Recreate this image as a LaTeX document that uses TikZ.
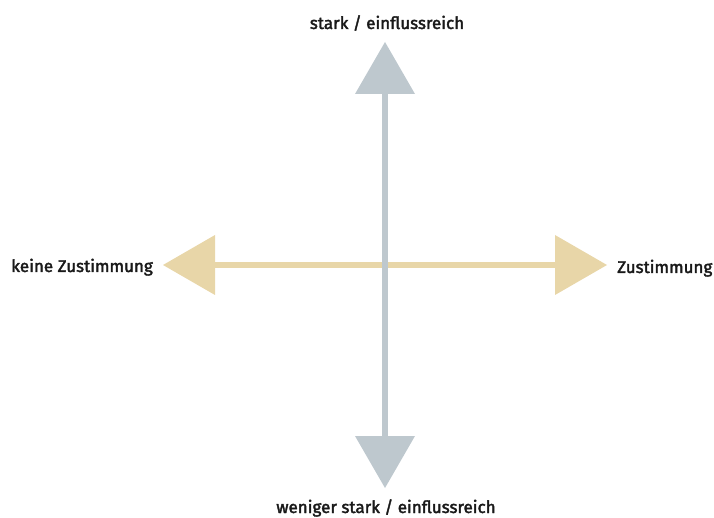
\documentclass[tikz,border=0pt]{standalone}
\usepackage{fontspec}
\setmainfont{Fira Sans}[UprightFeatures={FakeBold=2.2}]
\usetikzlibrary{arrows.meta}
\definecolor{axisgray}{RGB}{190,200,206}
\definecolor{axistan}{RGB}{232,214,168}
\tikzset{
  axis/.style={line width=6pt, {Triangle[width=60pt,length=52pt,line width=0pt]}-{Triangle[width=60pt,length=52pt,line width=0pt]}},
  lbl/.style={inner sep=0pt, font=\fontsize{17}{20}\selectfont, text=black!90}
}
\begin{document}
\begin{tikzpicture}[x=1pt,y=-1pt]
\useasboundingbox (0,0) rectangle (714,518);
\coordinate (L) at (163,265);
\coordinate (R) at (607,265);
\coordinate (T) at (385,42);
\coordinate (B) at (385,488);
\draw[axis, color=axistan] (L) -- (R);
\draw[axis, color=axisgray] (T) -- (B);
\node[lbl, anchor=base] (top) at (387,29) {stark / einflussreich};
\node[lbl, anchor=base] (bot) at (386,513) {weniger stark / einflussreich};
\node[lbl, anchor=base east] (left) at (153,272) {keine Zustimmung};
\node[lbl, anchor=base west] (right) at (617,273) {Zustimmung};
\end{tikzpicture}
\end{document}
